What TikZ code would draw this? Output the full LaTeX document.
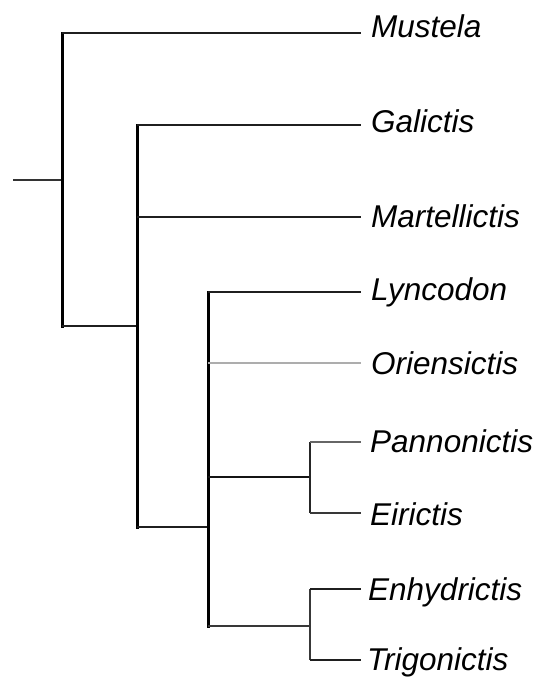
\documentclass[tikz,border=0pt]{standalone}
\usepackage{fontspec}
\setmainfont{Liberation Sans}
\begin{document}
\begin{tikzpicture}[x=1pt,y=-1pt,
  taxon/.style={anchor=base west,inner sep=0pt,font=\fontsize{31.5}{36}\selectfont\itshape},
  stem/.style={line width=3pt,black,line cap=rect},
  twig/.style={line width=2.4pt,black!88},
  thin/.style={line width=1.8pt,black!78},
  faint/.style={line width=2.3pt,black!32}]
\useasboundingbox (0,0) rectangle (536,680);

% internal nodes of the tree
\coordinate (root)  at (62,180);
\coordinate (stub)  at (13,180);
\coordinate (n2)    at (137,326);
\coordinate (n3)    at (208,527);
\coordinate (n4)    at (310,477);
\coordinate (n5)    at (310,626);

% leaf tips
\coordinate (tMus) at (361,33);
\coordinate (tGal) at (361,125);
\coordinate (tMar) at (361,217);
\coordinate (tLyn) at (361,292);
\coordinate (tOri) at (361,363);
\coordinate (tPan) at (361,442);
\coordinate (tEir) at (361,513);
\coordinate (tEnh) at (361,589);
\coordinate (tTri) at (361,660);

% labels
\node[taxon] (Mus) at (371,37)  {Mustela};
\node[taxon] (Gal) at (371,132) {Galictis};
\node[taxon] (Mar) at (371,227) {Martellictis};
\node[taxon] (Lyn) at (371,300) {Lyncodon};
\node[taxon] (Ori) at (371,374) {Oriensictis};
\node[taxon] (Pan) at (370,452) {Pannonictis};
\node[taxon] (Eir) at (370,525) {Eirictis};
\node[taxon] (Enh) at (368,600) {Enhydrictis};
\node[taxon] (Tri) at (367,670) {Trigonictis};

% root stem
\draw[line width=1.9pt,black!80] (stub) -- (root);
\draw[stem] (root |- tMus) -- (root |- n2);
\draw[twig] (root |- tMus) -- (tMus);
\draw[twig] (root |- n2) -- (n2);

% clade n2
\draw[stem] (n2 |- tGal) -- (n2 |- n3);
\draw[twig] (n2 |- tGal) -- (tGal);
\draw[twig] (n2 |- tMar) -- (tMar);
\draw[twig] (n2 |- n3) -- (n3);

% clade n3
\draw[stem] (n3 |- tLyn) -- (n3 |- n5);
\draw[twig] (n3 |- tLyn) -- (tLyn);
\draw[faint] (n3 |- tOri) -- (tOri);
\draw[line width=2.8pt,black!92] (n3 |- n4) -- (n4);
\draw[thin] (n3 |- n5) -- (n5);

% clade n4
\draw[line width=2.1pt,black!85] (n4 |- tPan) -- (n4 |- tEir);
\draw[line width=1.6pt,black!60] (n4 |- tPan) -- (tPan);
\draw[thin] (n4 |- tEir) -- (tEir);

% clade n5
\draw[thin] (n5 |- tEnh) -- (n5 |- tTri);
\draw[twig] (n5 |- tEnh) -- (tEnh);
\draw[twig] (n5 |- tTri) -- (tTri);
\end{tikzpicture}
\end{document}
